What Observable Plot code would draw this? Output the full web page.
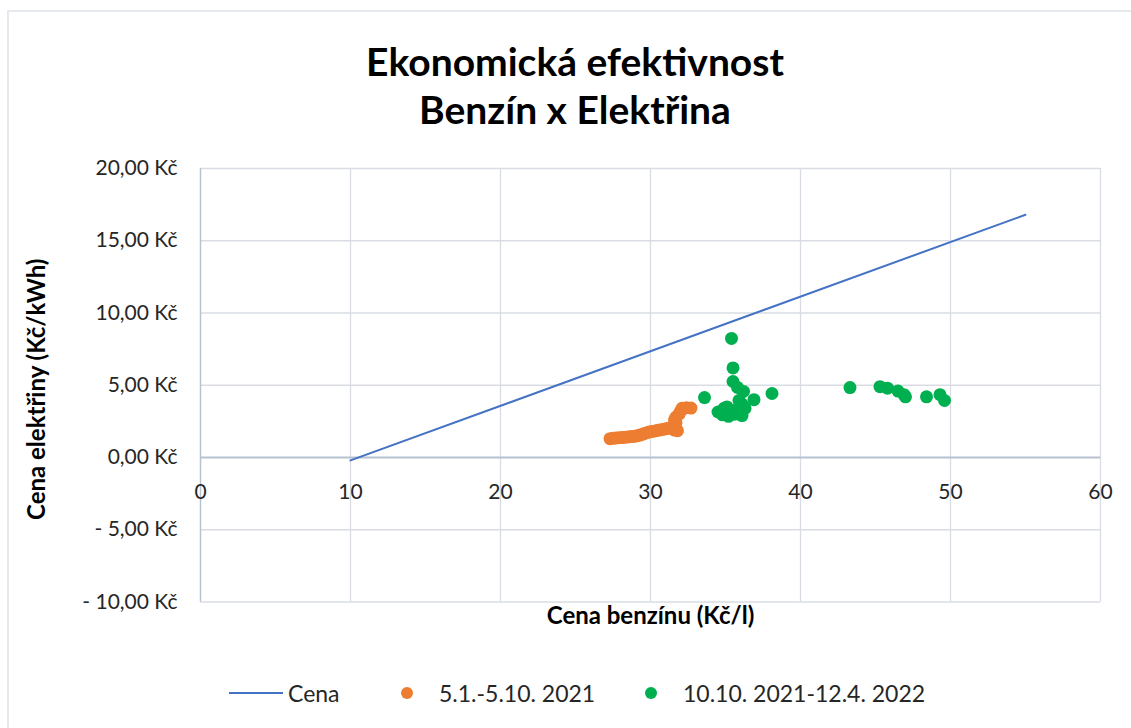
<!DOCTYPE html>
<html>
<head>
<meta charset="utf-8">
<script src="https://cdn.jsdelivr.net/npm/d3@7"></script>
<script src="https://cdn.jsdelivr.net/npm/@observablehq/plot@0.6"></script>
<style>
  html, body { margin: 0; padding: 0; background: #fff; }
  #wrap { position: relative; width: 1131px; height: 728px; overflow: hidden; font-family: Lato, "Open Sans", sans-serif; }
  #frame { position: absolute; left: 7px; top: 10px; width: 1140px; height: 740px; border: 2px solid #e6e9ee; box-sizing: border-box; }
  #title { position: absolute; left: 0; width: 1150px; top: 37px; text-align: center; font-weight: 700; font-size: 39px; line-height: 48px; color: #000; }
  #chart { position: absolute; left: 0; top: 140px; }
  .leg { position: absolute; font-size: 23px; color: #262626; top: 678px; line-height: 30px; }
  .dot { position: absolute; width: 12px; height: 12px; border-radius: 50%; top: 687px; }
</style>
</head>
<body>
<div id="wrap">
  <div id="frame"></div>
  <div id="title">Ekonomická efektivnost<br>Benzín x Elektřina</div>
  <div id="chart"></div>
  <div style="position:absolute;left:229px;top:692px;width:54px;height:2px;background:#4472C4"></div>
  <div class="leg" style="left:288px">Cena</div>
  <div class="dot" style="left:401px;background:#ED7D31"></div>
  <div class="leg" style="left:439px">5.1.-5.10. 2021</div>
  <div class="dot" style="left:645px;background:#00B050"></div>
  <div class="leg" style="left:683px">10.10. 2021-12.4. 2022</div>
</div>
<script>
// Axis ticks
const xTicks = [0, 10, 20, 30, 40, 50, 60];
const yTicks = [-10, -5, 0, 5, 10, 15, 20];

// Series "Cena" (line)
const cenaX = [10, 55];
const cenaY = [-0.2, 16.8];

// Series "5.1.-5.10. 2021" (orange)
const orangeX = [27.3, 27.5, 27.7, 27.9, 28.1, 28.3, 28.5, 28.7, 28.9, 29.1, 29.3, 29.5, 29.7, 29.9, 30.1, 30.3, 30.5, 30.7, 30.9, 31.1, 31.3, 31.5, 31.6, 31.8, 31.7, 31.6, 31.7, 31.9, 32.0, 32.1, 32.4, 32.7];
const orangeY = [1.30, 1.33, 1.35, 1.37, 1.38, 1.40, 1.42, 1.45, 1.46, 1.50, 1.55, 1.62, 1.70, 1.76, 1.80, 1.84, 1.88, 1.92, 1.96, 2.00, 2.05, 2.15, 1.90, 1.85, 2.40, 2.60, 2.80, 3.00, 3.20, 3.40, 3.45, 3.42];

// Series "10.10. 2021-12.4. 2022" (green)
const greenX = [33.6, 34.5, 34.8, 34.9, 35.1, 35.2, 35.5, 35.4, 35.5, 35.5, 35.8, 36.2, 36.9, 38.1, 36.1, 36.1, 36.3, 35.9, 35.6, 43.3, 45.3, 45.8, 46.5, 46.9, 47.0, 48.4, 49.3, 49.6];
const greenY = [4.15, 3.15, 2.95, 3.40, 3.50, 2.85, 3.25, 8.24, 6.20, 5.26, 4.85, 4.57, 4.00, 4.43, 2.90, 3.70, 3.40, 3.95, 3.00, 4.84, 4.90, 4.80, 4.60, 4.35, 4.20, 4.20, 4.35, 3.95];

const cena = cenaX.map((x, i) => ({x, y: cenaY[i]}));
const orange = orangeX.map((x, i) => ({x, y: orangeY[i]}));
const green = greenX.map((x, i) => ({x, y: greenY[i]}));

const fmtY = d => (d < 0 ? "- " : "") + Math.abs(d).toFixed(2).replace(".", ",") + " Kč";

const chart = Plot.plot({
  width: 1131,
  height: 500,
  marginLeft: 200,
  marginRight: 31,
  marginTop: 28,
  marginBottom: 38.5,
  style: {fontFamily: "Lato, 'Open Sans', sans-serif", background: "transparent"},
  x: {domain: [0, 60], axis: null},
  y: {domain: [-10, 20], axis: null},
  marks: [
    Plot.gridX(xTicks.filter(d => d !== 0), {stroke: "#d9dde3", strokeOpacity: 1, strokeWidth: 1.3}),
    Plot.gridY(yTicks.filter(d => d !== 0), {stroke: "#d9dde3", strokeOpacity: 1, strokeWidth: 1.3}),
    Plot.ruleX([0], {y1: -10, y2: 20, stroke: "#b7c2d1", strokeWidth: 1.5}),
    Plot.ruleY([0], {stroke: "#b7c2d1", strokeWidth: 2}),
    Plot.text(yTicks, {x: 0, y: d => d, text: fmtY, textAnchor: "end", dx: -23, fontSize: 21, fill: "#262626"}),
    Plot.text(xTicks, {x: d => d, y: 0, text: d => String(d), dy: 35, fontSize: 21, fill: "#262626"}),
    Plot.text(["Cena elektřiny (Kč/kWh)"], {frameAnchor: "left", textAnchor: "middle", rotate: -90, dx: -163, dy: 4, fontSize: 24, fontWeight: "bold", fill: "#000"}),
    Plot.text(["Cena benzínu (Kč/l)"], {frameAnchor: "bottom", dy: 21.5, fontSize: 24, fontWeight: "bold", fill: "#000"}),
    Plot.line(cena, {x: "x", y: "y", stroke: "#4472C4", strokeWidth: 2}),
    Plot.dot(orange, {x: "x", y: "y", r: 6.5, fill: "#ED7D31"}),
    Plot.dot(green, {x: "x", y: "y", r: 6.5, fill: "#00B050"})
  ]
});
document.getElementById("chart").appendChild(chart);
</script>
</body>
</html>
